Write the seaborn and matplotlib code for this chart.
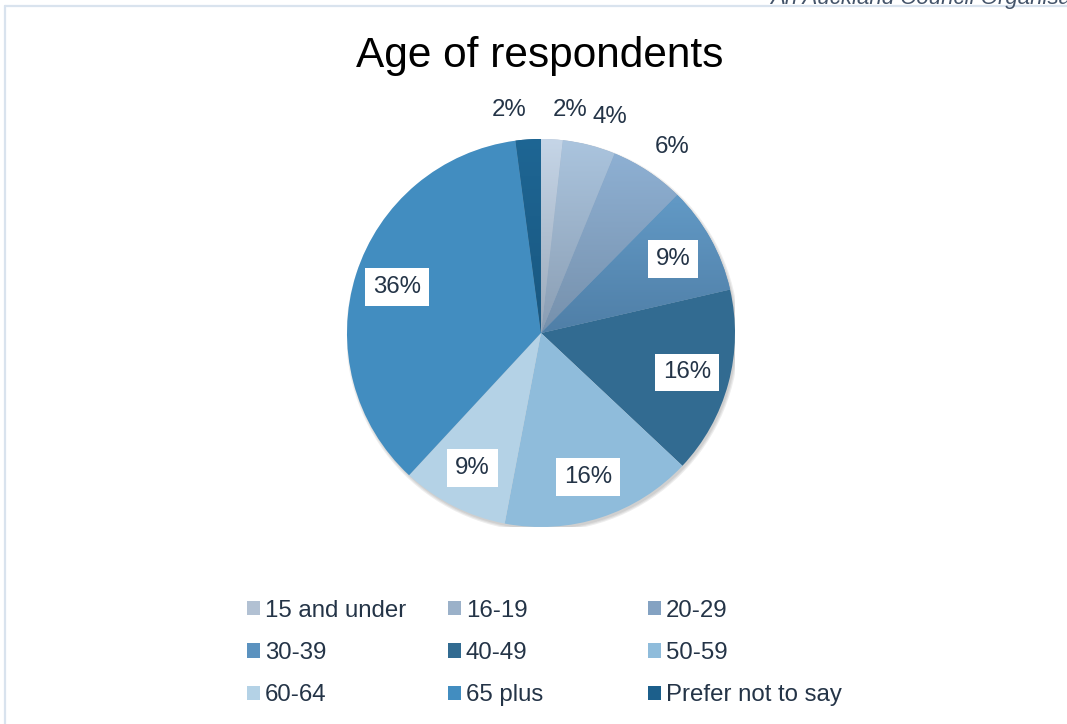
import matplotlib
matplotlib.use("Agg")
import numpy as np
import matplotlib.pyplot as plt
import seaborn as sns
from matplotlib.colors import LinearSegmentedColormap
from matplotlib.patches import Patch, Circle
from matplotlib.lines import Line2D

# ---- data ----
categories = ["15 and under", "16-19", "20-29", "30-39", "40-49",
              "50-59", "60-64", "65 plus", "Prefer not to say"]
values = [1.8, 4.4, 6.2, 9.0, 15.6, 16.0, 8.9, 36.0, 2.1]
pct_labels = ["2%", "4%", "6%", "9%", "16%", "16%", "9%", "36%", "2%"]
title = "Age of respondents"
org_text = "An Auckland Council Organisation"

# ---- styles ----
mid_colors = ["#b2c1d3", "#9bb1c9", "#84a2c2", "#5b92bf", "#326b91",
              "#8fbcdb", "#b4d2e6", "#428dc0", "#1c5f8b"]
gradients = {0: ("#c6d6e8", "#9aa8b8"),
             1: ("#abc5df", "#8a9db2"),
             2: ("#90b3d7", "#7690ab"),
             3: ("#6aa5d3", "#4f7ea6"),
             8: ("#1e6694", "#195780")}
text_color = "#243447"
FS = 17.3

sns.set_theme(style="white")
plt.rcParams['font.family'] = ['Liberation Sans', 'DejaVu Sans']

W, H = 1067, 724
fig = plt.figure(figsize=(W / 100, H / 100), dpi=100)
fig.patch.set_facecolor("white")

cx, cy, R = 541, 333, 194
ax = fig.add_axes([(cx - R) / W, (H - cy - R) / H, 2 * R / W, 2 * R / H])

# soft shadow
for k, a in enumerate([0.10, 0.10, 0.10]):
    ax.add_patch(Circle((0.008, -0.012), 1.0 + 0.006 * k, color="#555555",
                        alpha=a, lw=0, zorder=0))

wedges, _ = ax.pie(values, startangle=90, counterclock=False,
                   colors=mid_colors, radius=1,
                   wedgeprops=dict(linewidth=0, zorder=1))

grad = np.linspace(0, 1, 256).reshape(-1, 1)
for i, w in enumerate(wedges):
    if i in gradients:
        cmap = LinearSegmentedColormap.from_list(f"g{i}", list(gradients[i]))
        im = ax.imshow(grad, cmap=cmap, extent=[-1.02, 1.02, -0.02, 1.02],
                       origin="upper", aspect="auto", zorder=2,
                       interpolation="bilinear")
        im.set_clip_path(w)

for w, lab, v in zip(wedges, pct_labels, values):
    th = np.deg2rad((w.theta1 + w.theta2) / 2)
    dx, dy = np.cos(th), np.sin(th)
    if v < 7:
        r = 1.15
        xoff = np.sign(dx) * 18 * (1 - abs(dx))
        ax.annotate(lab, (r * dx, r * dy), xytext=(xoff, 0),
                    textcoords="offset pixels", ha="center", va="center",
                    fontsize=FS, color=text_color, zorder=5,
                    annotation_clip=False)
    else:
        r = 0.78
        ax.text(r * dx, r * dy, lab, ha="center", va="center",
                fontsize=FS, color=text_color, zorder=5,
                bbox=dict(boxstyle="square,pad=0.33", fc="white", ec="none"))

ax.set_xlim(-1, 1)
ax.set_ylim(-1, 1)
ax.set_aspect("equal")
ax.axis("off")

# title
fig.text(539.5 / W, (H - 67) / H, title, ha="center", va="baseline",
         fontsize=30.5, color="black")

# top-right organisation text (cropped)
fig.text(770 / W, (H - 4) / H, org_text, ha="left", va="baseline",
         fontsize=16, style="italic", color="#44546a")

# frame lines
fig.add_artist(Line2D([4.5 / W, 1.0], [(H - 5.5) / H] * 2, color="#d9e3ee", lw=1.6))
fig.add_artist(Line2D([4.5 / W] * 2, [0, (H - 5.5) / H], color="#d9e3ee", lw=1.6))

# legend: three columns, filled row-wise
col_x = [247, 448, 648]
for c in range(3):
    idx = [c, c + 3, c + 6]
    handles = [Patch(facecolor=mid_colors[i], edgecolor="none") for i in idx]
    labels = [categories[i] for i in idx]
    fig.legend(handles, labels, loc="center left",
               bbox_to_anchor=(col_x[c] / W, (H - 653) / H),
               frameon=False, fontsize=FS, borderpad=0, borderaxespad=0,
               handlelength=0.54, handleheight=0.54, handletextpad=0.2,
               labelspacing=0.84, labelcolor=text_color)

fig.savefig("out.png", dpi=100, facecolor="white")
